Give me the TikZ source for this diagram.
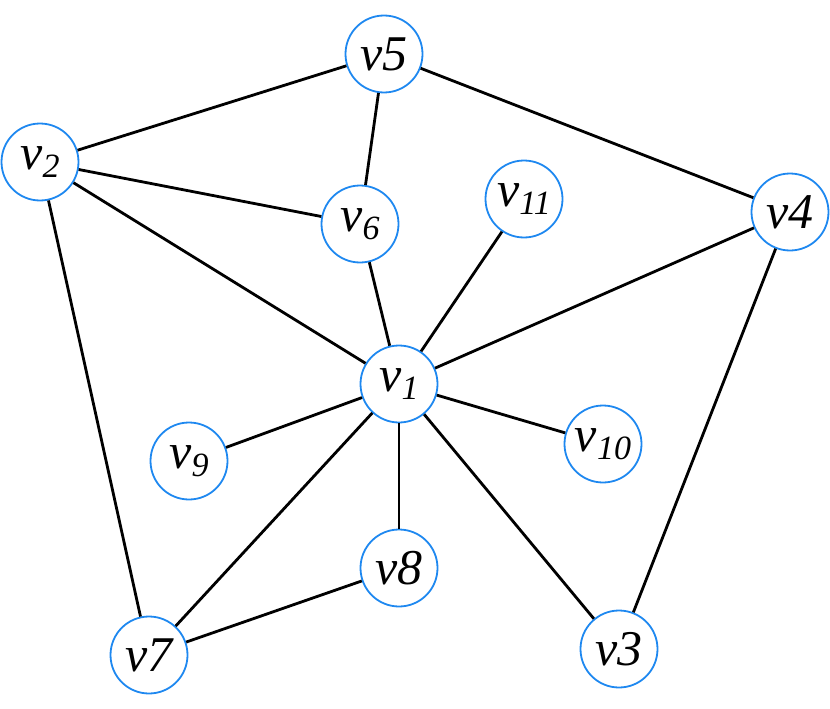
\documentclass[tikz,border=0pt]{standalone}
\usepackage{fontspec}
\setmainfont{Liberation Serif}
\definecolor{nodeblue}{HTML}{1E88F0}
\newcommand{\vsub}[1]{\raisebox{-8pt}{\fontsize{34}{34}\selectfont #1}}
\begin{document}
\begin{tikzpicture}[x=1pt,y=-1pt,
  vert/.style={circle,draw=nodeblue,line width=1.8pt,fill=white,minimum size=77pt,inner sep=0pt,
    font=\fontsize{50}{50}\selectfont\itshape},
  edge/.style={line width=2.8pt,black}]
\useasboundingbox (0,0) rectangle (830,709);
\node[vert] (v5) at (384,54) {v5};
\node[vert] (v2) at (40,162) {v\vsub{2}};
\node[vert] (v6) at (360,224) {v\vsub{6}};
\node[vert] (v11) at (524,199) {v\vsub{11}};
\node[vert] (v4) at (790,212) {v4};
\node[vert] (v1) at (399,384) {v\vsub{1}};
\node[vert] (v9) at (189,461) {v\vsub{9}};
\node[vert] (v10) at (603,444) {v\vsub{10}};
\node[vert] (v8) at (399,568) {v8};
\node[vert] (v7) at (149,655) {v7};
\node[vert] (v3) at (619,649) {v3};
\draw[edge] (v5) -- (v2);
\draw[edge] (v5) -- (v6);
\draw[edge] (v5) -- (v4);
\draw[edge] (v2) -- (v6);
\draw[edge] (v2) -- (v1);
\draw[edge] (v2) -- (v7);
\draw[edge] (v6) -- (v1);
\draw[edge] (v11) -- (v1);
\draw[edge] (v4) -- (v1);
\draw[edge] (v4) -- (v3);
\draw[edge] (v1) -- (v9);
\draw[edge] (v1) -- (v10);
\draw[edge] (v1) -- (v7);
\draw[edge] (v1) -- (v8);
\draw[edge] (v1) -- (v3);
\draw[edge] (v8) -- (v7);
\end{tikzpicture}
\end{document}
